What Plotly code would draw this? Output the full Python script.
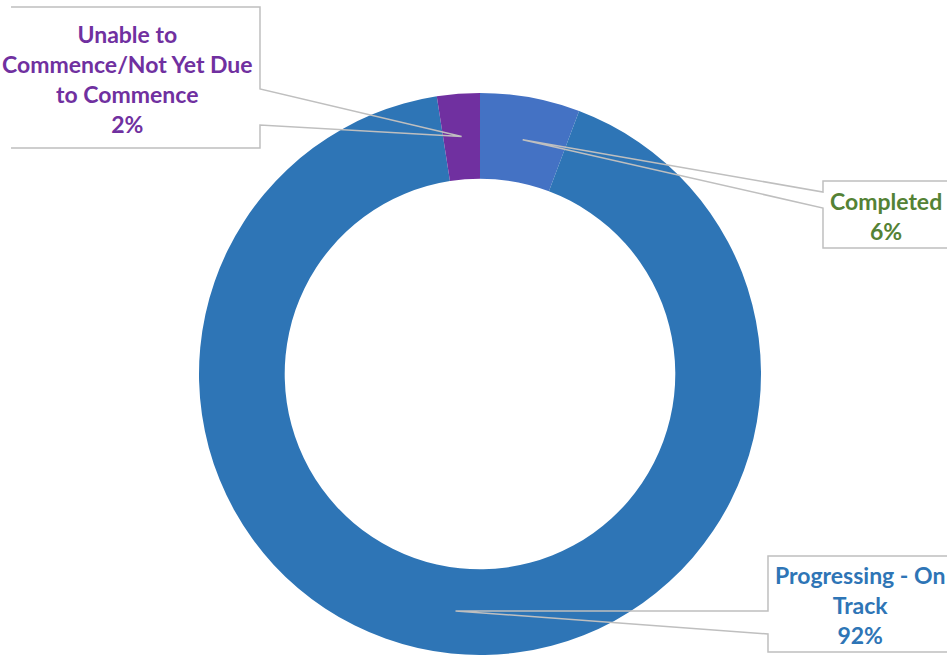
import math
import plotly.graph_objects as go

# ---- data ----
categories = ["Completed", "Progressing - On Track", "Unable to Commence/Not Yet Due to Commence"]
label_lines = [["Completed"], ["Progressing - On", "Track"], ["Unable to", "Commence/Not Yet Due", "to Commence"]]
values = [7, 112, 3]
slice_colors = ["#4472C4", "#2E75B6", "#7030A0"]
text_colors = ["#548235", "#2E75B6", "#7030A0"]

W, H = 947, 655
FONT = "Lato"

# pie geometry (pixels)
px0, px1 = 198, 762
py_top, py_bot = 93, 655
hole = 0.695

dom_x = [px0 / W, px1 / W]
dom_y = [1 - py_bot / H, 1 - py_top / H]

fig = go.Figure(go.Pie(
    labels=categories, values=values,
    marker=dict(colors=slice_colors, line=dict(color="white", width=0)),
    hole=hole, sort=False, direction="clockwise", rotation=0,
    textinfo="none", hoverinfo="skip", showlegend=False,
    domain=dict(x=dom_x, y=dom_y),
))

# geometry for leader anchors
r = min(px1 - px0, py_bot - py_top) / 2
cx = (px0 + px1) / 2
cy = (py_top + py_bot) / 2
rmid = r * (1 + hole) / 2
total = sum(values)

def X(x):
    return x / W

def Y(y):
    return 1 - y / H

anchors = []
cum = 0
for v in values:
    mid = (cum + v / 2) / total * 2 * math.pi
    anchors.append((cx + rmid * math.sin(mid), cy - rmid * math.cos(mid)))
    cum += v

pcts = [round(100 * v / total) for v in values]

# callout boxes: (box edges, attach ys, text center)
boxes = [
    dict(edge=823, top=181, bottom=248, far=952, a1=192, a2=208, tx=886, ty=216),
    dict(edge=768, top=556, bottom=652, far=952, a1=611, a2=634, tx=860, ty=605),
    dict(edge=260, top=7, bottom=148, far=11, a1=89, a2=125, tx=127, ty=79),
]

shapes = []
annotations = []
for i, b in enumerate(boxes):
    ax, ay = anchors[i]
    pts = [(b["far"], b["top"]), (b["edge"], b["top"]), (b["edge"], b["a1"]),
           (ax, ay), (b["edge"], b["a2"]), (b["edge"], b["bottom"]), (b["far"], b["bottom"])]
    path = "M " + " L ".join(f"{X(x):.5f},{Y(y):.5f}" for x, y in pts)
    shapes.append(dict(type="path", path=path, xref="paper", yref="paper",
                       line=dict(color="#BFBFBF", width=1.5),
                       fillcolor="rgba(0,0,0,0)", layer="above"))
    text = "<br>".join(label_lines[i] + [f"{pcts[i]}%"])
    annotations.append(dict(text=text, x=X(b["tx"]), y=Y(b["ty"]), xref="paper", yref="paper",
                            xanchor="center", yanchor="middle", showarrow=False, align="center",
                            font=dict(family=FONT, size=23, color=text_colors[i], weight="bold")))

fig.update_layout(
    width=W, height=H,
    margin=dict(l=0, r=0, t=0, b=0),
    paper_bgcolor="white", plot_bgcolor="white",
    shapes=shapes, annotations=annotations,
    showlegend=False,
)

fig.write_html("out.html", config={"displayModeBar": False},
               post_script="document.body.style.margin='0';document.body.style.overflow='hidden';")
